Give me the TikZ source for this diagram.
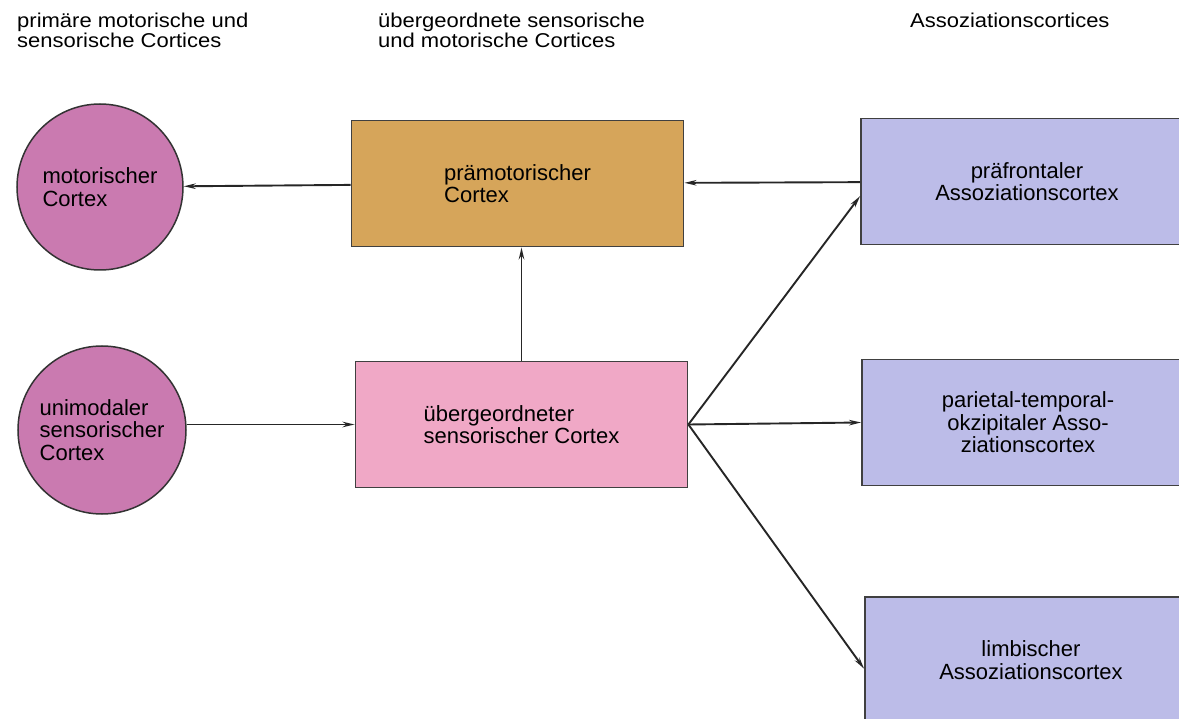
\documentclass[tikz,border=0pt]{standalone}
\usepackage{fontspec}
\setmainfont{Liberation Sans}
\newfontfamily\titelfont[FakeStretch=1.1]{Liberation Sans}
\usepackage{xcolor}
\usepackage{tikz}
\usetikzlibrary{arrows.meta}
\definecolor{rosa}{RGB}{202,122,176}
\definecolor{ocker}{RGB}{214,165,90}
\definecolor{hellrosa}{RGB}{240,168,198}
\definecolor{lila}{RGB}{188,188,232}
\tikzset{kreis/.style={circle, draw=black!80, line width=1.5pt, fill=rosa, inner sep=0, align=left, font=\fontsize{22}{22.5}\selectfont}}
\tikzset{kasten/.style={rectangle, draw=black!75, line width=1.8pt, inner sep=0, minimum width=332, minimum height=126, font=\fontsize{22}{22.5}\selectfont}}
\tikzset{titel/.style={anchor=north west, inner sep=0, align=left, font=\titelfont\fontsize{20}{16.5}\selectfont}}
\tikzset{pfeil/.style={->, >={Stealth[length=12pt, width=5.5pt]}, line width=1.9pt, draw=black!85}}

\begin{document}
\begin{tikzpicture}[x=1pt, y=-1pt]
\clip (0,0) rectangle (1179,719);
% Spaltenkoepfe
\node[titel] (t1) at (17,13) {primäre motorische und\\sensorische Cortices};
\node[titel] (t2) at (378,13) {übergeordnete sensorische\\und motorische Cortices};
\node[titel] (t3) at (910,13) {Assoziationscortices};
% primaere Cortices
\node[kreis, minimum size=166] (motor) at (100,187) {motorischer\\Cortex};
\node[kreis, minimum size=168] (unimod) at (102,430) {unimodaler\\sensorischer\\Cortex};
% uebergeordnete Cortices
\node[kasten, fill=ocker, align=left] (praemot) at (517.5,183.5) {prämotorischer\\Cortex};
\node[kasten, fill=hellrosa, align=left] (uebersens) at (521.5,424.5) {übergeordneter\\sensorischer Cortex};
% Assoziationscortices
\node[kasten, fill=lila, align=center] (praefront) at (1027,181.5) {präfrontaler\\Assoziationscortex};
\node[kasten, fill=lila, align=center] (pto) at (1028,422.5) {parietal-temporal-\\okzipitaler Asso-\\ziationscortex};
\node[kasten, fill=lila, align=center] (limb) at (1031,660) {limbischer\\Assoziationscortex};
% Verbindungen
\draw[pfeil] (praemot) -- (motor);
\draw[pfeil] (praefront) -- (praemot);
\draw[pfeil] (uebersens.north) -- (uebersens.north |- praemot.south);
\draw[pfeil] (uebersens.west -| unimod.east) -- (uebersens.west);
\foreach \ziel in {praefront.185, pto.west, limb.183} \draw[pfeil] (uebersens.east) -- (\ziel);
\end{tikzpicture}
\end{document}
